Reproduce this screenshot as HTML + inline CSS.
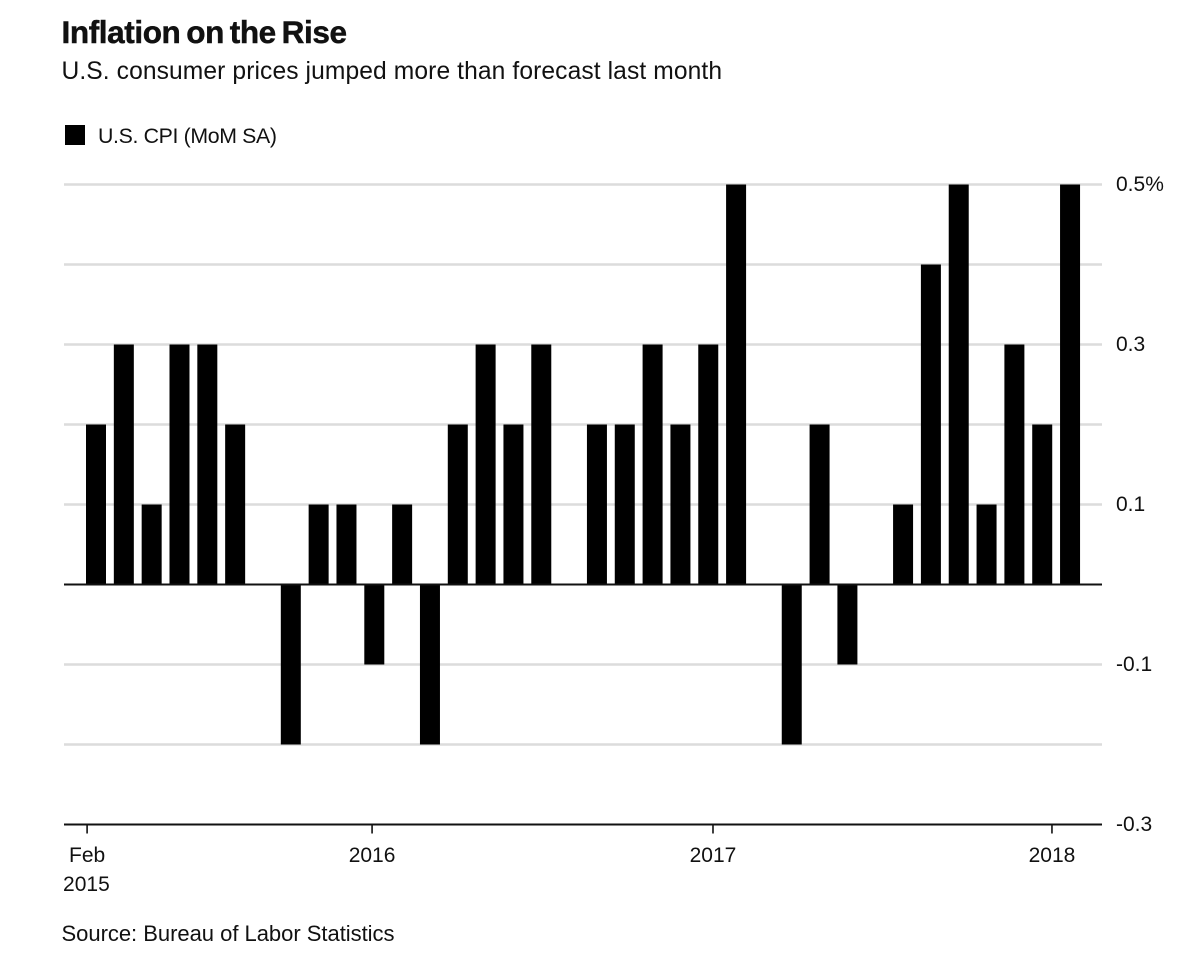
<!DOCTYPE html>
<html lang="en">
<head>
<meta charset="utf-8">
<title>Inflation on the Rise</title>
<style>
  html, body { margin: 0; padding: 0; background: #fff; }
  body { width: 1200px; height: 980px; overflow: hidden; }
  svg { display: block; }
  text { font-family: "Liberation Sans", Arial, sans-serif; fill: #111111; }
</style>
</head>
<body>
<svg id="chart" xmlns="http://www.w3.org/2000/svg" width="1200" height="980" viewBox="0 0 1200 980">
  <rect x="0" y="0" width="1200" height="980" fill="#ffffff"/>
  <text x="61.5" y="43" font-size="31.5" font-weight="700" stroke="#111111" stroke-width="0.5" word-spacing="-2.5" textLength="285.5" lengthAdjust="spacing">Inflation on the Rise</text>
  <text x="61.5" y="79" font-size="24.6" textLength="660.5" lengthAdjust="spacing">U.S. consumer prices jumped more than forecast last month</text>
  <rect x="65" y="125" width="20" height="20" fill="#000000"/>
  <text x="98" y="143" font-size="21.3" textLength="179" lengthAdjust="spacing">U.S. CPI (MoM SA)</text>
  <g id="grid"></g>
  <g id="bars"></g>
  <g id="axes"></g>
  <text x="61.5" y="941" font-size="22" textLength="333" lengthAdjust="spacing">Source: Bureau of Labor Statistics</text>
</svg>
<script>
const months = ["Feb 2015","Mar 2015","Apr 2015","May 2015","Jun 2015","Jul 2015","Aug 2015","Sep 2015","Oct 2015","Nov 2015","Dec 2015","Jan 2016","Feb 2016","Mar 2016","Apr 2016","May 2016","Jun 2016","Jul 2016","Aug 2016","Sep 2016","Oct 2016","Nov 2016","Dec 2016","Jan 2017","Feb 2017","Mar 2017","Apr 2017","May 2017","Jun 2017","Jul 2017","Aug 2017","Sep 2017","Oct 2017","Nov 2017","Dec 2017","Jan 2018"];
const cpiValues = [0.2,0.3,0.1,0.3,0.3,0.2,0,-0.2,0.1,0.1,-0.1,0.1,-0.2,0.2,0.3,0.2,0.3,0,0.2,0.2,0.3,0.2,0.3,0.5,0,-0.2,0.2,-0.1,0,0.1,0.4,0.5,0.1,0.3,0.2,0.5];
const yGridValues = [0.5,0.4,0.3,0.2,0.1,-0.1,-0.2];
const yTickValues = [0.5,0.3,0.1,-0.1,-0.3];
const yTickLabels = ["0.5%","0.3","0.1","-0.1","-0.3"];
const xTickMonths = [-0.32,9.92,22.17,34.35];
const xTickLabels = [["Feb","2015"],["2016"],["2017"],["2018"]];

const NS = "http://www.w3.org/2000/svg";
const plotLeft = 64, plotRight = 1102;
const y = v => 584.5 - (v * 800);
const x = i => 96 + i * 27.83;
const barWidth = 20;

function make(tag, parent, attrs) {
  const el = document.createElementNS(NS, tag);
  for (const k in attrs) el.setAttribute(k, attrs[k]);
  parent.appendChild(el);
  return el;
}

const grid = document.getElementById("grid");
const bars = document.getElementById("bars");
const axes = document.getElementById("axes");

yGridValues.forEach(v => {
  const line = make("line", grid, {x1: plotLeft, x2: plotRight, y1: y(v), y2: y(v), stroke: "#dcdcdc", "stroke-width": 2.5});
  
  
});

cpiValues.forEach((v, i) => {
  const top = Math.min(y(v), y(0));
  const h = Math.abs(y(v) - y(0));
  const bar = make("rect", bars, {x: x(i) - barWidth / 2, y: top, width: barWidth, height: h, fill: "#000000"});
  
  
  const tip = make("title", bar, {});
  tip.textContent = months[i] + ": " + v;
});

const zeroLine = make("line", axes, {x1: plotLeft, x2: plotRight, y1: y(0), y2: y(0), stroke: "#111111", "stroke-width": 2});



const xAxis = make("line", axes, {x1: plotLeft, x2: plotRight, y1: y(-0.3), y2: y(-0.3), stroke: "#111111", "stroke-width": 2});



yTickValues.forEach((v, i) => {
  const label = make("text", axes, {x: 1116, y: y(v) + 6.5, "font-size": 21});
  
  
  label.textContent = yTickLabels[i];
});

xTickMonths.forEach((m, i) => {
  const tx = x(m);
  const tick = make("line", axes, {x1: tx, x2: tx, y1: y(-0.3), y2: y(-0.3) + 9, stroke: "#111111", "stroke-width": 1.6});
  
  
  xTickLabels[i].forEach((line, j) => {
    const label = make("text", axes, {x: tx - (j ? 0.7 : 0), y: 862 + j * 29, "font-size": 21, "text-anchor": "middle"});
    
    
    label.textContent = line;
  });
});
</script>
</body>
</html>
